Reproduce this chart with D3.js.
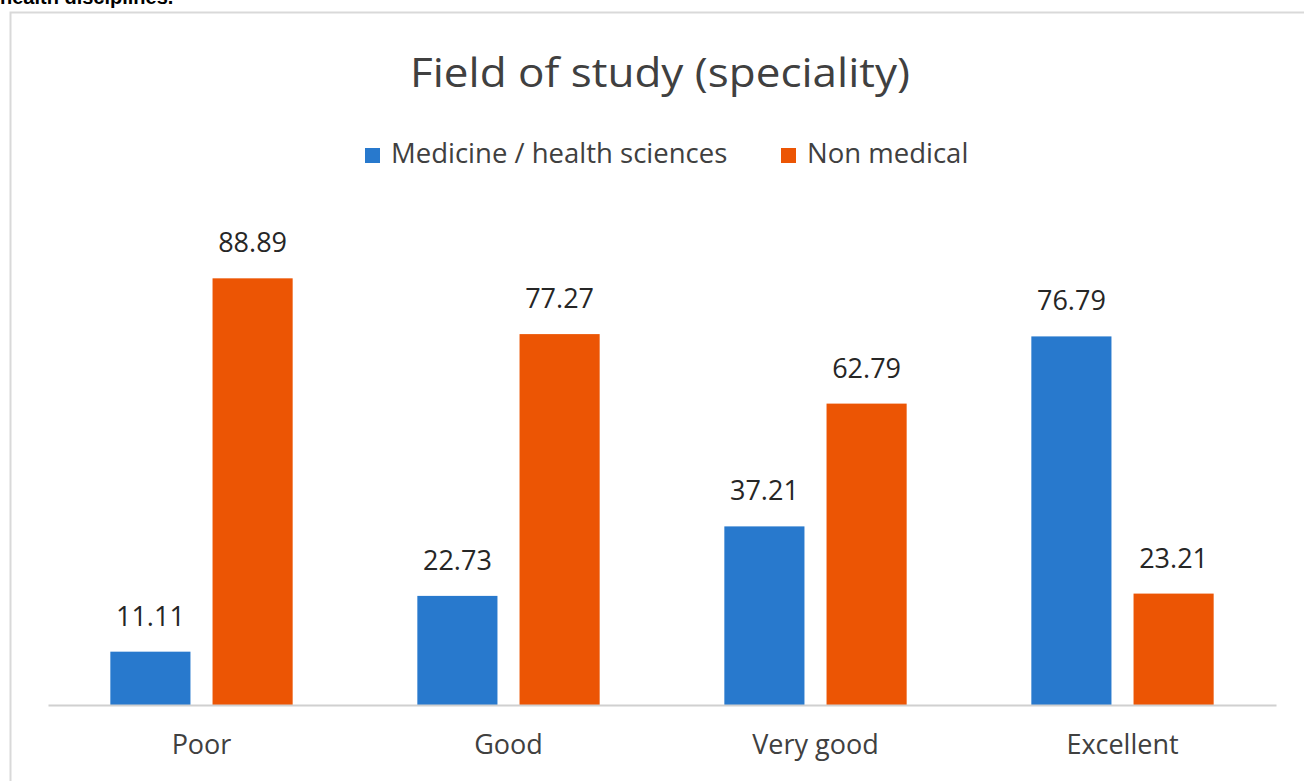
<!DOCTYPE html>
<html>
<head>
<meta charset="utf-8">
<script src="https://cdn.jsdelivr.net/npm/d3@7"></script>
<style>
  html, body { margin: 0; padding: 0; background: #fff; }
  svg { display: block; }
</style>
</head>
<body>
<svg id="chart" width="1304" height="781"></svg>
<script>
// data
const categories = ['Poor', 'Good', 'Very good', 'Excellent'];
const seriesNames = ['Medicine / health sciences', 'Non medical'];
const medicine = [11.11, 22.73, 37.21, 76.79];
const nonMedical = [88.89, 77.27, 62.79, 23.21];
const seriesColors = ['#2879CD', '#EC5504'];

const svg = d3.select('#chart');
const font = '"Open Sans", "Noto Sans", sans-serif';

// caption text cut off above the chart
svg.append('text')
    .attr('x', 0).attr('y', 4)
    .attr('font-family', 'Liberation Sans, Arial, sans-serif')
    .attr('font-weight', 'bold')
    .attr('font-size', 20)
    .attr('fill', '#000')
    .text('health disciplines.');

// chart frame
svg.append('rect')
    .attr('x', 10.5).attr('y', 12.5)
    .attr('width', 1310).attr('height', 790)
    .attr('fill', '#fff')
    .attr('stroke', '#d9d9d9')
    .attr('stroke-width', 2);

const plotLeft = 48, plotRight = 1276, baseY = 705, topY = 225;

const x0 = d3.scaleBand()
    .domain(categories)
    .range([plotLeft, plotRight]);

const x1 = d3.scaleBand()
    .domain(seriesNames)
    .range([0, x0.bandwidth()])
    .paddingInner(0.216)
    .paddingOuter(0.61);

const y = d3.scaleLinear()
    .domain([0, 100])
    .range([baseY, topY]);

const color = d3.scaleOrdinal().domain(seriesNames).range(seriesColors);

// title
svg.append('text')
    .attr('x', 660).attr('y', 87)
    .attr('text-anchor', 'middle')
    .attr('font-family', font)
    .attr('font-size', 41)
    .attr('textLength', 500)
    .attr('lengthAdjust', 'spacingAndGlyphs')
    .attr('fill', '#404040')
    .text('Field of study (speciality)');

// legend
const legendItems = [
    { name: seriesNames[0], x: 365 },
    { name: seriesNames[1], x: 781 }
];
const legend = svg.append('g');
legendItems.forEach((d) => {
    legend.append('rect')
        .attr('x', d.x).attr('y', 148)
        .attr('width', 15).attr('height', 15)
        .attr('fill', color(d.name));
    legend.append('text')
        .attr('x', d.x + 26).attr('y', 163)
        .attr('font-family', font)
        .attr('font-size', 27.5)
        .attr('fill', '#404040')
        .text(d.name);
});

const rows = categories.map((c, i) => ({
    category: c,
    values: [
        { series: seriesNames[0], value: medicine[i] },
        { series: seriesNames[1], value: nonMedical[i] }
    ]
}));

const groups = svg.append('g')
    .selectAll('g')
    .data(rows)
    .join('g')
    .attr('transform', (d) => `translate(${x0(d.category)},0)`);

groups.selectAll('rect')
    .data((d) => d.values)
    .join('rect')
    .attr('x', (d) => x1(d.series))
    .attr('y', (d) => y(d.value))
    .attr('width', x1.bandwidth())
    .attr('height', (d) => y(0) - y(d.value))
    .attr('fill', (d) => color(d.series));

groups.selectAll('text')
    .data((d) => d.values)
    .join('text')
    .attr('x', (d) => x1(d.series) + x1.bandwidth() / 2)
    .attr('y', (d) => y(d.value) - 26)
    .attr('text-anchor', 'middle')
    .attr('font-family', font)
    .attr('font-size', 27)
    .attr('fill', '#262626')
    .text((d) => d.value.toFixed(2));

// x axis
const xAxis = svg.append('g')
    .attr('transform', `translate(0,${baseY})`)
    .call(d3.axisBottom(x0).tickSize(0).tickPadding(30));

xAxis.select('.domain')
    .attr('stroke', '#d0d0d0')
    .attr('stroke-width', 2);

xAxis.selectAll('text')
    .attr('font-family', font)
    .attr('font-size', 27)
    .attr('fill', '#404040');
</script>
</body>
</html>
